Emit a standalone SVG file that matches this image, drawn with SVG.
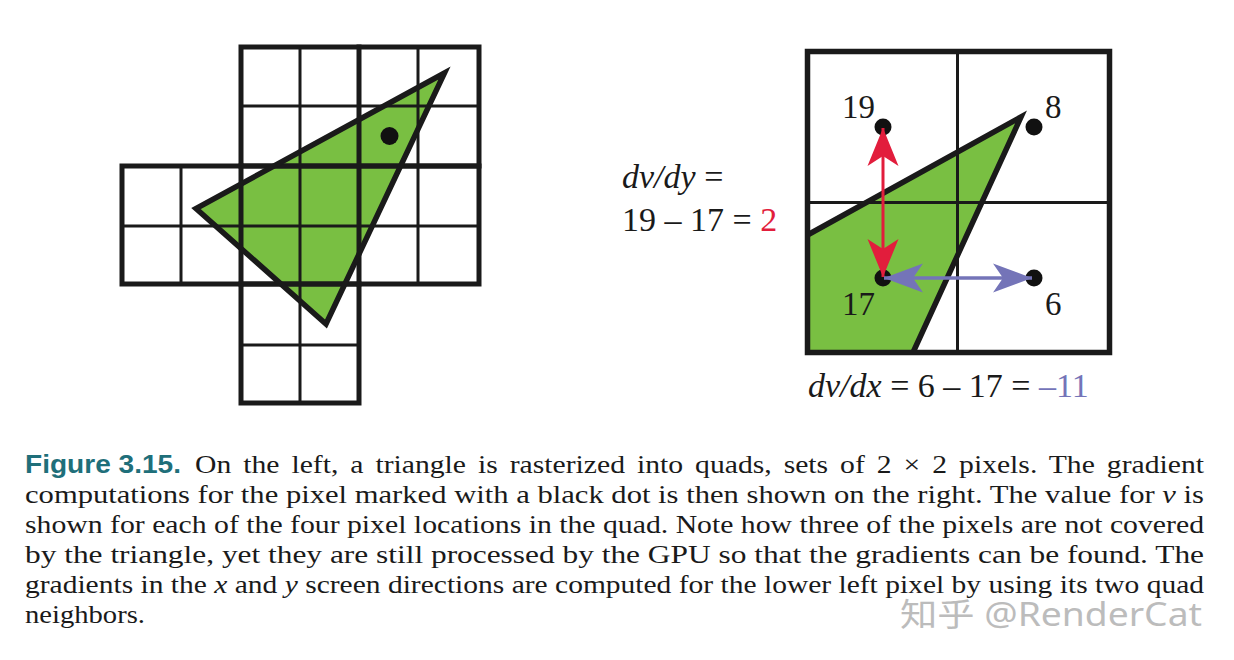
<svg xmlns="http://www.w3.org/2000/svg" width="1234" height="660" viewBox="0 0 1234 660">
<style>
.thick{stroke:#1a1a1a;stroke-width:5;fill:none;stroke-linecap:square}
.thin{stroke:#1a1a1a;stroke-width:3;fill:none}
.mid{stroke:#1a1a1a;stroke-width:3;fill:none}
.green{fill:#79bf42;stroke:none}
.edge{fill:none;stroke:#1a1a1a;stroke-width:5.5;stroke-linejoin:miter;stroke-miterlimit:10}
.dot{fill:#111}
.num{font-family:"Liberation Serif","Times New Roman",serif;font-size:33px;fill:#1a1a1a}
.eq{font-family:"Liberation Serif","Times New Roman",serif;font-size:34px;fill:#1a1a1a}
.it{font-style:italic}
.cap{font-family:"Liberation Serif","DejaVu Serif",serif;font-size:26px;fill:#1a1a1a}
.fig{font-family:"Liberation Sans","DejaVu Sans",sans-serif;font-size:25px;font-weight:bold;fill:#1f6f7a}
.wm{font-family:"Noto Sans","Noto Sans CJK SC",sans-serif;font-size:32px;fill:#bcbcbc}
</style>
<defs>
<marker id="redHead" viewBox="-40 -17 42 34" markerWidth="42" markerHeight="34" refX="0" refY="0" markerUnits="userSpaceOnUse" orient="auto-start-reverse">
<path d="M0,0 L-38,-15.5 L-28,0 L-38,15.5 Z" fill="#e21d3c"/>
</marker>
<marker id="blueHead" viewBox="-40 -17 42 34" markerWidth="42" markerHeight="34" refX="0" refY="0" markerUnits="userSpaceOnUse" orient="auto-start-reverse">
<path d="M0,0 L-39,-14.5 L-29,0 L-39,14.5 Z" fill="#7474b8"/>
</marker>
</defs>
<rect width="1234" height="660" fill="#ffffff"/>

<g id="left-raster">
<polygon class="green" points="444.5,73 196,208.5 326,324"/>
<g id="left-grid-thin">
<line class="thin" x1="300" y1="47" x2="300" y2="403"/>
<line class="thin" x1="418" y1="47" x2="418" y2="284"/>
<line class="thin" x1="181" y1="166" x2="181" y2="284"/>
<line class="thin" x1="241" y1="106" x2="479" y2="106"/>
<line class="thin" x1="122" y1="226" x2="479" y2="226"/>
<line class="thin" x1="241" y1="345" x2="359" y2="345"/>
</g>
<g id="left-grid-thick">
<rect class="thick" x="241" y="47" width="238" height="119"/>
<rect class="thick" x="122" y="166" width="357" height="118"/>
<rect class="thick" x="241" y="284" width="118" height="119"/>
<line class="thick" x1="359" y1="47" x2="359" y2="284"/>
<line class="thick" x1="241" y1="166" x2="241" y2="284"/>
</g>
<polygon class="edge" points="444.5,73 196,208.5 326,324"/>
<circle class="dot" cx="389.5" cy="136" r="9"/>
</g>

<g id="right-quad">
<polygon class="green" points="807.5,235 1021,117 913,352.5 807.5,352.5"/>
<line class="mid" x1="957.5" y1="52" x2="957.5" y2="352"/>
<line class="mid" x1="807" y1="202.5" x2="1110" y2="202.5"/>
<polyline class="edge" points="807.5,235 1021,117 913,352.5"/>
<rect x="807.5" y="51.5" width="302" height="301" fill="none" stroke="#1a1a1a" stroke-width="5.5"/>
<circle class="dot" cx="883" cy="127" r="8.5"/>
<circle class="dot" cx="1034" cy="127" r="8.5"/>
<circle class="dot" cx="883" cy="278" r="8.5"/>
<circle class="dot" cx="1034" cy="278" r="8.5"/>
</g>

<g id="connectors">
<line x1="883" y1="128" x2="883" y2="277" stroke="#e21d3c" stroke-width="3" marker-start="url(#redHead)" marker-end="url(#redHead)"/>
<line x1="884" y1="278" x2="1032" y2="278" stroke="#7474b8" stroke-width="3.5" marker-start="url(#blueHead)" marker-end="url(#blueHead)"/>
</g>

<g id="labels">
<text class="num" x="842" y="118">19</text>
<text class="num" x="1045" y="118">8</text>
<text class="num" x="842" y="315">17</text>
<text class="num" x="1045" y="315">6</text>
<text class="eq" x="622" y="188"><tspan class="it">dv/dy</tspan> =</text>
<text class="eq" x="622" y="231">19 – 17 = <tspan fill="#e21d3c">2</tspan></text>
<text class="eq" x="808" y="397"><tspan class="it">dv/dx</tspan> = 6 – 17 = <tspan fill="#7474b8">–11</tspan></text>
</g>

<g id="caption">
<text class="fig" x="25" y="473" textLength="156" lengthAdjust="spacingAndGlyphs">Figure 3.15.</text>
<text class="cap" x="195" y="473" textLength="1009" lengthAdjust="spacingAndGlyphs" word-spacing="4">On the left, a triangle is rasterized into quads, sets of 2 × 2 pixels.  The gradient</text>
<text class="cap" x="25" y="503" textLength="1179" lengthAdjust="spacingAndGlyphs">computations for the pixel marked with a black dot is then shown on the right. The value for <tspan class="it">v</tspan> is</text>
<text class="cap" x="25" y="533" textLength="1179" lengthAdjust="spacingAndGlyphs">shown for each of the four pixel locations in the quad. Note how three of the pixels are not covered</text>
<text class="cap" x="25" y="563" textLength="1179" lengthAdjust="spacingAndGlyphs">by the triangle, yet they are still processed by the GPU so that the gradients can be found. The</text>
<text class="cap" x="25" y="593" textLength="1179" lengthAdjust="spacingAndGlyphs">gradients in the <tspan class="it">x</tspan> and <tspan class="it">y</tspan> screen directions are computed for the lower left pixel by using its two quad</text>
<text class="cap" x="25" y="623" textLength="120" lengthAdjust="spacingAndGlyphs">neighbors.</text>
</g>

<g id="watermark">
<text class="wm" x="900" y="626" textLength="302" lengthAdjust="spacingAndGlyphs">知乎 @RenderCat</text>
</g>
</svg>
